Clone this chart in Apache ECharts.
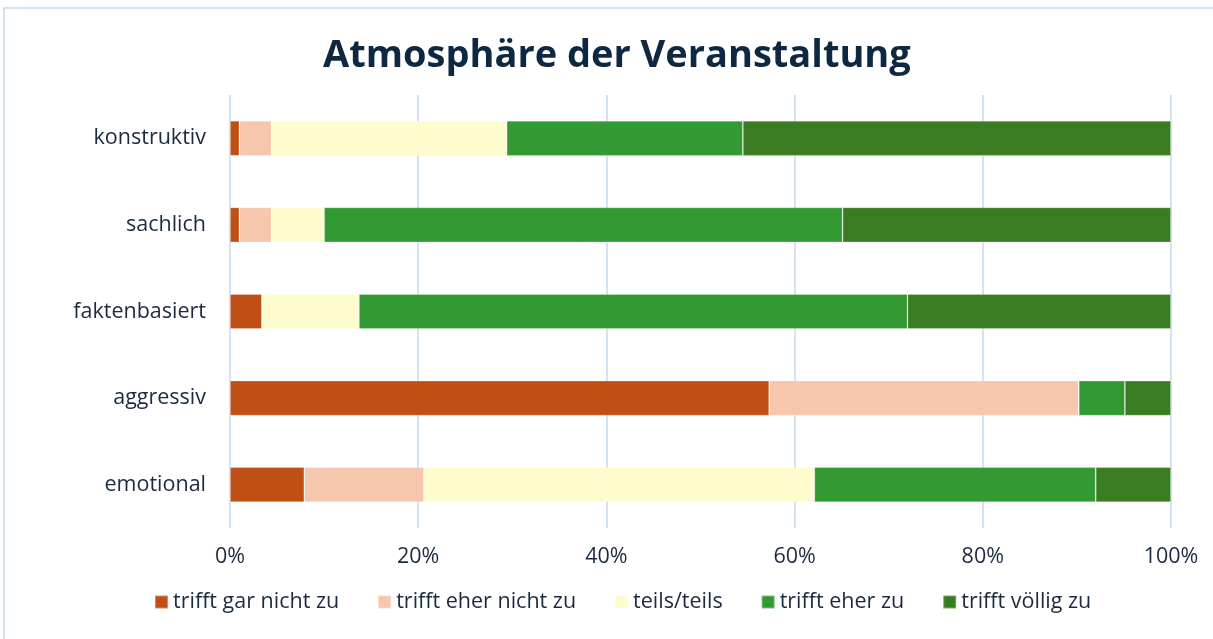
<!DOCTYPE html>
<html>
<head>
<meta charset="utf-8">
<script src="https://cdn.jsdelivr.net/npm/echarts@6/dist/echarts.min.js"></script>
<style>
  html, body { margin: 0; padding: 0; background: #fff; }
  #chart { width: 1213px; height: 639px; }
</style>
</head>
<body>
<div id="chart"></div>
<script>
  // Kategorien (von oben nach unten)
  const categories = ['konstruktiv', 'sachlich', 'faktenbasiert', 'aggressiv', 'emotional'];
  const seriesNames = ['trifft gar nicht zu', 'trifft eher nicht zu', 'teils/teils', 'trifft eher zu', 'trifft völlig zu'];
  // Anteile in Prozent je Kategorie
  const garNicht   = [1.0, 1.0, 3.4, 57.3, 7.9];
  const eherNicht  = [3.4, 3.4, 0, 32.9, 12.7];
  const teilsTeils = [25.0, 5.6, 10.3, 0, 41.5];
  const eherZu     = [25.1, 55.1, 58.3, 4.9, 29.9];
  const voelligZu  = [45.5, 34.9, 28.0, 4.9, 8.0];
  const xTicks = [0, 20, 40, 60, 80, 100];

  const colors = ['#C04F15', '#F6C6AD', '#FEFCCC', '#339933', '#3A7C22'];
  const values = [garNicht, eherNicht, teilsTeils, eherZu, voelligZu];
  const textColor = '#1b2a3f';
  const font = '"Open Sans", sans-serif';

  const chart = echarts.init(document.getElementById('chart'));
  chart.setOption({
    animation: false,
    textStyle: { fontFamily: font },
    title: {
      text: 'Atmosphäre der Veranstaltung',
      left: 318,
      top: 32,
      textStyle: { fontSize: 38, fontWeight: 'bold', color: '#0E2841', fontFamily: font }
    },
    graphic: [{
      type: 'rect',
      shape: { x: 4, y: 8, width: 1230, height: 660 },
      style: { fill: 'none', stroke: '#C6D9F0', lineWidth: 1.5 },
      silent: true
    }],
    legend: {
      bottom: 21,
      left: 149,
      itemWidth: 13,
      itemHeight: 13,
      itemGap: 38,
      icon: 'rect',
      textStyle: { fontSize: 21.5, color: textColor, fontFamily: font },
      data: seriesNames
    },
    grid: { left: 230, right: 42, top: 95, bottom: 111 },
    xAxis: {
      type: 'value',
      min: xTicks[0],
      max: xTicks[xTicks.length - 1],
      interval: 20,
      axisLine: { show: false },
      axisTick: { show: false },
      splitLine: { lineStyle: { color: '#C6D9F0', width: 1.5 } },
      axisLabel: { formatter: '{value}%', fontSize: 21.5, color: textColor, margin: 18 }
    },
    yAxis: {
      type: 'category',
      inverse: true,
      data: categories,
      axisLine: { show: false },
      axisTick: { show: false },
      axisLabel: { fontSize: 21.5, color: textColor, margin: 24 }
    },
    series: seriesNames.map((name, i) => ({
      name: name,
      type: 'bar',
      stack: 'total',
      barWidth: 35,
      itemStyle: { color: colors[i], borderColor: 'rgba(255,255,255,0.35)', borderWidth: 0.8 },
      data: values[i]
    }))
  });
</script>
</body>
</html>
